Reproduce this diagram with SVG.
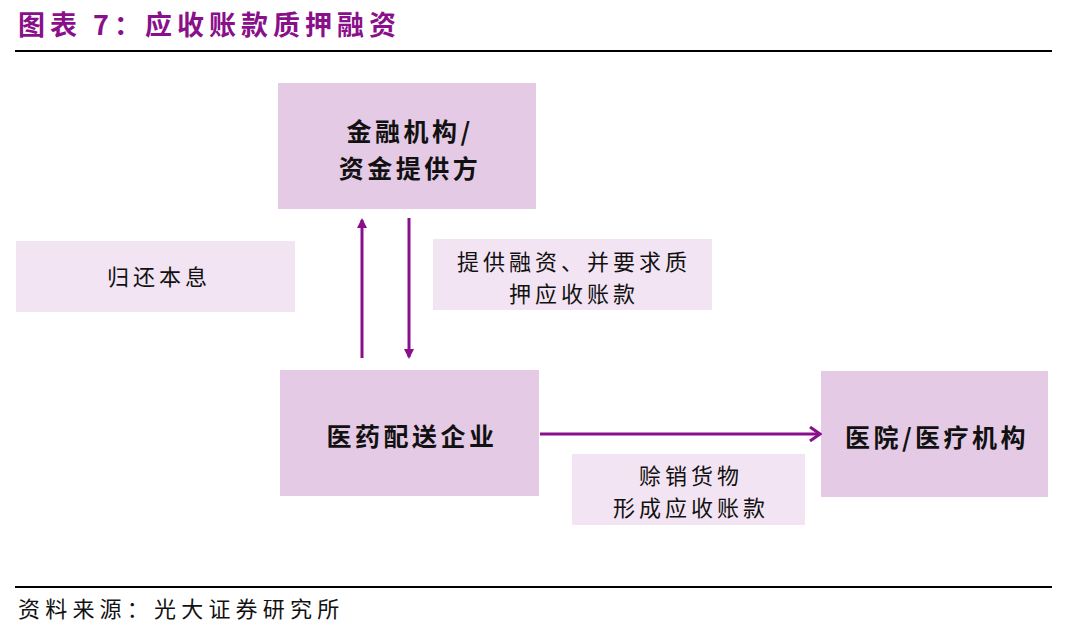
<svg xmlns="http://www.w3.org/2000/svg" width="1080" height="629" viewBox="0 0 1080 629">
<defs>
<style>
.main{fill:#e5cae5}
.lab{fill:#f3e4f3}
.t{font-family:"Noto Sans CJK SC","Noto Sans",sans-serif;fill:#111;text-anchor:middle}
.b{font-size:25px;font-weight:bold;letter-spacing:3.5px}
.n{font-size:22px;letter-spacing:4px}
.conn{stroke:#8a0f8a;stroke-width:3;fill:none}
</style>
<marker id="ah" markerWidth="10" markerHeight="10" refX="8" refY="5" orient="auto" markerUnits="userSpaceOnUse">
<path d="M0,0 L10,5 L0,10 z" fill="#8a0f8a"/>
</marker>
<marker id="ao" markerWidth="14" markerHeight="16" refX="12" refY="8" orient="auto" markerUnits="userSpaceOnUse">
<path d="M2,1 L12,8 L2,15" fill="none" stroke="#8a0f8a" stroke-width="3"/>
</marker>
</defs>
<rect width="1080" height="629" fill="#fff"/>
<text y="35" font-family="'Noto Sans CJK SC',sans-serif" font-size="27" font-weight="bold" fill="#8a0f8a" letter-spacing="5"><tspan x="18">图表</tspan><tspan x="93">7：</tspan><tspan x="145">应收账款质押融资</tspan></text>
<line x1="15" y1="51" x2="1052" y2="51" stroke="#000" stroke-width="2"/>
<g id="bank">
<rect class="main" x="278" y="83" width="258" height="126"/>
<text class="t b" x="410" y="141">金融机构/</text>
<text class="t b" x="410" y="178">资金提供方</text>
</g>
<g id="repay">
<rect class="lab" x="16" y="241" width="279" height="71"/>
<text class="t n" x="159" y="285">归还本息</text>
</g>
<g id="finance">
<rect class="lab" x="433" y="239" width="279" height="71"/>
<text class="t n" x="574" y="270">提供融资、并要求质</text>
<text class="t n" x="574" y="302">押应收账款</text>
</g>
<g id="distributor">
<rect class="main" x="280" y="370" width="259" height="126"/>
<text class="t b" x="412" y="446">医药配送企业</text>
</g>
<g id="hospital">
<rect class="main" x="821" y="371" width="227" height="126"/>
<text class="t b" x="937" y="447">医院/医疗机构</text>
</g>
<g id="credit">
<rect class="lab" x="572" y="454" width="233" height="71"/>
<text class="t n" x="691" y="484">赊销货物</text>
<text class="t n" x="691" y="516">形成应收账款</text>
</g>
<g id="connectors">
<line class="conn" x1="362" y1="358" x2="362" y2="220" marker-end="url(#ah)"/>
<line class="conn" x1="409" y1="218" x2="409" y2="357" marker-end="url(#ah)"/>
<line class="conn" x1="540" y1="434" x2="820" y2="434" marker-end="url(#ao)"/>
</g>
<line x1="15" y1="587" x2="1052" y2="587" stroke="#000" stroke-width="2"/>
<text x="18" y="617" font-family="'Noto Sans CJK SC',sans-serif" font-size="22" fill="#111" letter-spacing="5.2">资料来源：光大证券研究所</text>
</svg>
